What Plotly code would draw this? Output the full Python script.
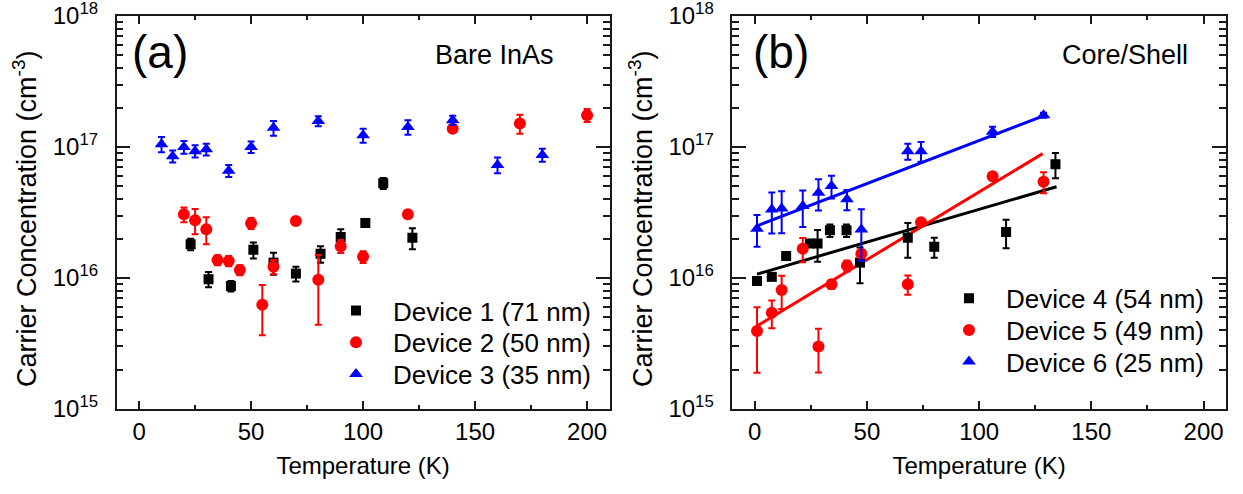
import plotly.graph_objects as go

# ---- (a) Bare InAs ----
dev1_T = [23, 31, 41, 51, 60, 70, 81, 90, 101, 109, 122]
dev1_n = [1.81e16, 9.8e15, 8.7e15, 1.64e16, 1.31e16, 1.08e16, 1.53e16, 2.06e16, 2.63e16, 5.29e16, 2.03e16]
dev1_err = [0.18e16, 0.13e16, 0.08e16, 0.23e16, 0.25e16, 0.14e16, 0.22e16, 0.3e16, 0.12e16, 0.5e16, 0.37e16]

dev2_T = [20, 25, 30, 35, 40, 45, 50, 55, 60, 70, 80, 90, 100, 120, 140, 170, 200]
dev2_n = [3.06e16, 2.76e16, 2.36e16, 1.37e16, 1.35e16, 1.15e16, 2.62e16, 6.25e15, 1.22e16,
          2.72e16, 9.7e15, 1.75e16, 1.45e16, 3.06e16, 1.38e17, 1.51e17, 1.75e17]
dev2_err = [0.4e16, 0.6e16, 0.55e16, 0.12e16, 0.12e16, 0.1e16, 0.25e16, 2.6e15, 0.15e16,
            0.1e16, 5.3e15, 0.2e16, 0.15e16, 0.2e16, 0.08e17, 0.25e17, 0.2e17]

dev3_T = [10, 15, 20, 25, 30, 40, 50, 60, 80, 100, 120, 140, 160, 180]
dev3_n = [1.05e17, 8.5e16, 1.0e17, 9.3e16, 9.6e16, 6.6e16, 1.0e17, 1.4e17, 1.58e17,
          1.23e17, 1.42e17, 1.6e17, 7.3e16, 8.7e16]
dev3_err = [1.4e16, 0.9e16, 1.1e16, 1.0e16, 1.0e16, 0.7e16, 1.0e16, 1.8e16, 1.4e16,
            1.5e16, 1.8e16, 1.3e16, 1.0e16, 1.0e16]

# ---- (b) Core/Shell ----
dev4_T = [1, 7.6, 14, 24.6, 28, 33.5, 40.9, 46.9, 68.2, 80, 112, 134]
dev4_n = [9.5e15, 1.02e16, 1.47e16, 1.83e16, 1.83e16, 2.31e16, 2.31e16, 1.31e16, 2.03e16, 1.73e16, 2.24e16, 7.38e16]
dev4_err = [0.05e16, 0.05e16, 0.06e16, 0.1e16, 0.5e16, 0.25e16, 0.25e16, 0.4e16, 0.6e16, 0.3e16, 0.55e16, 1.6e16]

dev5_T = [1, 7.6, 12, 21.4, 28.4, 34.2, 41.1, 47.5, 68.2, 74.1, 106, 128.7]
dev5_n = [3.94e15, 5.43e15, 8.1e15, 1.67e16, 3.0e15, 8.95e15, 1.24e16, 1.53e16, 8.95e15, 2.67e16, 5.97e16, 5.43e16]
dev5_err = [2.05e15, 1.3e15, 2.3e15, 0.35e16, 1.1e15, 0.7e15, 0.12e16, 0.1e16, 1.5e15, 0.1e16, 0.2e16, 1.0e16]

dev6_T = [1, 7.6, 12, 21.4, 28.4, 34.2, 41.1, 47.5, 68.2, 74.1, 106, 128.7]
dev6_n = [2.38e16, 3.34e16, 3.4e16, 3.55e16, 4.48e16, 5.04e16, 3.99e16, 2.35e16, 9.3e16, 9.3e16, 1.31e17, 1.75e17]
dev6_err = [0.65e16, 1.15e16, 1.2e16, 1.1e16, 1.2e16, 1.0e16, 0.7e16, 1.0e16, 1.3e16, 1.6e16, 0.12e17, 0.08e17]

# exponential fits (straight lines on the log axis), end points
fit4_T = [1, 134.5]
fit4_n = [1.07e16, 4.97e16]
fit5_T = [1, 128.3]
fit5_n = [4.3e15, 8.9e16]
fit6_T = [1, 128.7]
fit6_n = [2.5e16, 1.73e17]

y_tickvals = [1e15, 1e16, 1e17, 1e18]
y_ticktext = ["10<sup>15</sup>", "10<sup>16</sup>", "10<sup>17</sup>", "10<sup>18</sup>"]

FONT = "Arial, Liberation Sans, sans-serif"
W, H = 1243, 494

fig = go.Figure()


def add_series(x, y, err, color, symbol, size, name, xa, ya, legend):
    fig.add_trace(go.Scatter(
        x=x, y=y, mode="markers", name=name, xaxis=xa, yaxis=ya, legend=legend,
        marker=dict(color=color, symbol=symbol, size=size, line=dict(width=0)),
        error_y=dict(type="data", array=err, color=color, thickness=2, width=3.5),
    ))


add_series(dev1_T, dev1_n, dev1_err, "black", "square", 10, "Device 1 (71 nm)", "x", "y", "legend")
add_series(dev2_T, dev2_n, dev2_err, "red", "circle", 12, "Device 2 (50 nm)", "x", "y", "legend2")
add_series(dev3_T, dev3_n, dev3_err, "blue", "triangle-up", 12, "Device 3 (35 nm)", "x", "y", "legend3")

for fx, fy, c in ((fit4_T, fit4_n, "black"), (fit5_T, fit5_n, "red"), (fit6_T, fit6_n, "blue")):
    fig.add_trace(go.Scatter(x=fx, y=fy, mode="lines", line=dict(color=c, width=3),
                             xaxis="x2", yaxis="y2", showlegend=False, hoverinfo="skip"))

add_series(dev4_T, dev4_n, dev4_err, "black", "square", 10, "Device 4 (54 nm)", "x2", "y2", "legend4")
add_series(dev5_T, dev5_n, dev5_err, "red", "circle", 12, "Device 5 (49 nm)", "x2", "y2", "legend5")
add_series(dev6_T, dev6_n, dev6_err, "blue", "triangle-up", 12, "Device 6 (25 nm)", "x2", "y2", "legend6")

xdom1 = [116.7 / W, 609.5 / W]
xdom2 = [732.3 / W, 1226 / W]
ydom = [1 - 409 / H, 1 - 16 / H]

AX = "#1a1a1a"
xaxis_common = dict(
    range=[-10, 210], dtick=50, tick0=0, ticks="inside", ticklen=8, tickwidth=1.5,
    tickcolor=AX, showline=True, linecolor=AX, linewidth=1.5, mirror="ticks",
    showgrid=False, zeroline=False, tickfont=dict(size=24, color="black", family=FONT),
    minor=dict(dtick=25, tick0=0, ticks="inside", ticklen=4, tickwidth=1.5, tickcolor=AX),
    title=dict(text="Temperature (K)", font=dict(size=24, color="black", family=FONT), standoff=14),
)
yaxis_common = dict(
    type="log", range=[15 - 1e-4, 18 + 1e-4], tickmode="array", tickvals=y_tickvals,
    ticktext=y_ticktext, ticklabeloverflow="allow", ticklabelstandoff=12,
    ticks="inside", ticklen=14, tickwidth=1.5, tickcolor=AX, showline=True,
    linecolor=AX, linewidth=1.5, mirror="ticks", showgrid=False, zeroline=False,
    tickfont=dict(size=24, color="black", family=FONT),
    minor=dict(dtick="D1", ticks="inside", ticklen=7, tickwidth=1.5, tickcolor=AX, showgrid=False),
)

legend_common = dict(
    font=dict(size=26, color="black", family=FONT), bgcolor="rgba(0,0,0,0)",
    borderwidth=0, itemwidth=64, xanchor="left", yanchor="middle",
)

# legend entries: one row each, pixel positions of the rows
leg_a_x, leg_b_x = 319, 932
leg_a_rows = [310.7, 342.4, 374.1]
leg_b_rows = [298.3, 330.0, 361.7]

legends = {}
for i, yy in enumerate(leg_a_rows):
    legends["legend" if i == 0 else f"legend{i + 1}"] = dict(x=leg_a_x / W, y=1 - yy / H, **legend_common)
for i, yy in enumerate(leg_b_rows):
    legends[f"legend{i + 4}"] = dict(x=leg_b_x / W, y=1 - yy / H, **legend_common)

fig.update_layout(
    width=W, height=H, margin=dict(l=0, r=0, t=0, b=0, autoexpand=False),
    paper_bgcolor="white", plot_bgcolor="white",
    font=dict(family=FONT, color="black"),
    xaxis=dict(domain=xdom1, anchor="y", **xaxis_common),
    yaxis=dict(domain=ydom, anchor="x", **yaxis_common),
    xaxis2=dict(domain=xdom2, anchor="y2", **xaxis_common),
    yaxis2=dict(domain=ydom, anchor="x2", **yaxis_common),
    showlegend=True,
    **legends,
)

# panel labels and vertical axis titles, positioned in pixels
YTITLE = "Carrier Concentration (cm<sup>-3</sup>)"
labels = [
    ("(a)", 160, 52, "center", 46, 0),
    ("(b)", 781, 52, "center", 46, 0),
    ("Bare InAs", 556, 55, "right", 27, 0),
    ("Core/Shell", 1190, 55, "right", 27, 0),
    (YTITLE, 25, 219, "center", 27, -90),
    (YTITLE, 641, 219, "center", 27, -90),
]
for text, px, py, anchor, size, angle in labels:
    fig.add_annotation(text=text, x=px / W, y=1 - py / H, xref="paper", yref="paper",
                       showarrow=False, xanchor=anchor, yanchor="middle", textangle=angle,
                       font=dict(size=size, color="black", family=FONT))

fig.write_html("out.html")
